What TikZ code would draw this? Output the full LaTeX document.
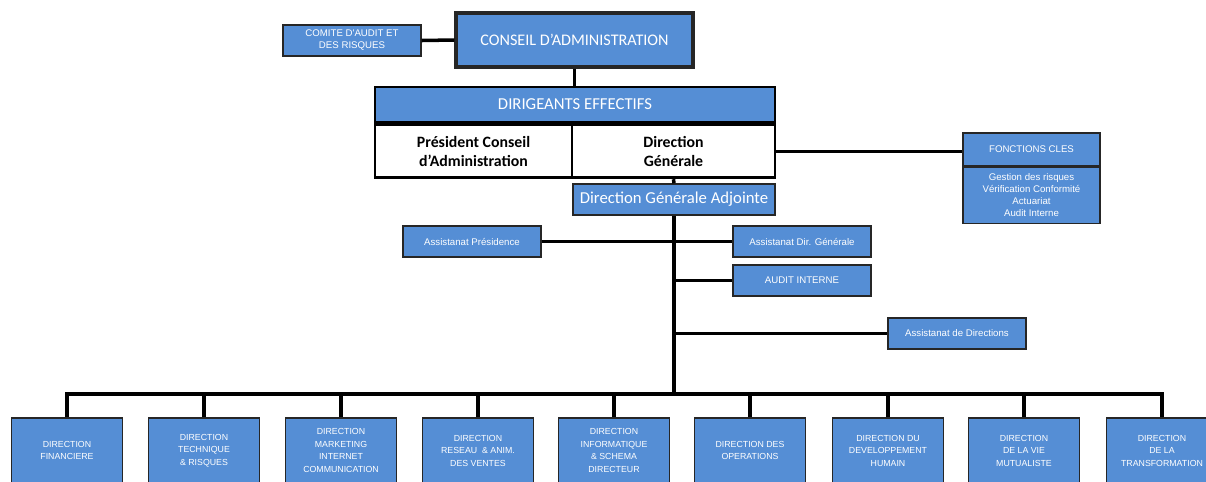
\documentclass[tikz,border=0pt]{standalone}
\usepackage{fontspec}
\setmainfont{Carlito}
\newfontfamily\petit{Liberation Sans}
\usetikzlibrary{positioning,calc}
\definecolor{bleu}{RGB}{85,142,213}
\tikzset{
  boite/.style ={draw=black!85,fill=bleu,text=white,align=center,inner sep=0pt,line width=0.8pt},
  petite/.style={boite,minimum width=2.76cm,minimum height=0.62cm,font=\petit\fontsize{5.5}{6.8}\selectfont},
  dirbox/.style={boite,minimum width=2.22cm,minimum height=1.3cm,font=\petit\fontsize{5}{7.1}\selectfont},
  grand/.style ={boite,font=\fontsize{9.5}{11}\selectfont},
  cadre/.style ={draw=black,line width=1.6pt,inner sep=0pt,align=center},
  lien/.style  ={line width=1.4pt},
  barre/.style ={line width=2pt},
  tronc/.style ={line width=2.8pt},
}
\begin{document}
\begin{tikzpicture}[x=0.02cm,y=-0.02cm]
  \useasboundingbox (0,0) rectangle (1206,481);
  % haut : conseil et comite
  \node[grand,line width=1.8pt,minimum width=4.74cm,minimum height=1.08cm,
        font=\fontsize{9.2}{11}\selectfont] (conseil) at (574.5,40) {CONSEIL D'ADMINISTRATION};
  \node[petite] (comite) at (352,40.5) {COMITE D'AUDIT ET\\DES RISQUES};
  \draw[barre] (comite.east) -- (conseil.west);
  % dirigeants effectifs
  \node[grand,cadre,minimum width=8cm,minimum height=0.7cm] (dirig) at (575,104.5) {DIRIGEANTS EFFECTIFS};
  \node[cadre,font=\bfseries\fontsize{9}{10.5}\selectfont,minimum width=3.94cm,minimum height=1.06cm,
        anchor=north west] (pres) at (dirig.south west) {Président Conseil\\d'Administration};
  \node[cadre,font=\bfseries\fontsize{9}{10.5}\selectfont,minimum width=4.06cm,minimum height=1.06cm,
        anchor=north east] (dg) at (dirig.south east) {Direction\\Générale};
  \draw[barre] (conseil.south) -- (conseil.south |- dirig.north);
  % fonctions cles
  \node[petite,minimum width=2.74cm,minimum height=0.66cm] (fc) at (1031.5,149.5) {FONCTIONS CLES};
  \node[petite,minimum width=2.74cm,minimum height=1.12cm,anchor=north] (fcb) at (fc.south)
        {Gestion des risques\\Vérification Conformité\\Actuariat\\Audit Interne};
  \draw[lien] (dg.east) -- (dg.east -| fc.west);
  % direction generale adjointe et rattachements
  \node[grand,minimum width=4.04cm,minimum height=0.62cm] (dga) at (674,199.5) {Direction Générale Adjointe};
  \draw[barre] (dg.south) -- (dga.north);
  \node[petite] (aspres) at (472,241.5) {Assistanat Présidence};
  \node[petite] (asdg) at (802,241.5) {Assistanat Dir. Générale};
  \node[petite] (audit) at (802,280.5) {AUDIT INTERNE};
  \node[petite] (asdir) at (957,333.5) {Assistanat de Directions};
  \coordinate (bus) at (674,394);
  \draw[tronc] (dga.south) -- (bus);
  \draw[lien] (aspres.east) -- (aspres.east -| bus);
  \foreach \n in {asdg,audit,asdir}
    \draw[lien] (\n.west -| bus) -- (\n.west);
  % directions
  \foreach \i/\x/\txt in {1/67/{DIRECTION\\FINANCIERE},
                          2/204/{DIRECTION\\TECHNIQUE\\\& RISQUES},
                          3/341/{DIRECTION\\MARKETING\\INTERNET\\COMMUNICATION},
                          4/478/{DIRECTION\\RESEAU \ \& ANIM.\\DES VENTES},
                          5/614/{DIRECTION\\INFORMATIQUE\\\& SCHEMA\\DIRECTEUR},
                          6/750/{DIRECTION DES\\OPERATIONS},
                          7/888/{DIRECTION DU\\DEVELOPPEMENT\\HUMAIN},
                          8/1024/{DIRECTION\\DE LA VIE\\MUTUALISTE},
                          9/1162/{DIRECTION\\DE LA\\TRANSFORMATION}}
    \node[dirbox] (d\i) at (\x,450.5) {\txt};
  \draw[barre] (d1.north) -- (d1.north |- bus) -- (d9.north |- bus) -- (d9.north);
  \foreach \i in {2,...,8}
    \draw[barre] (d\i.north) -- (d\i.north |- bus);
\end{tikzpicture}
\end{document}
